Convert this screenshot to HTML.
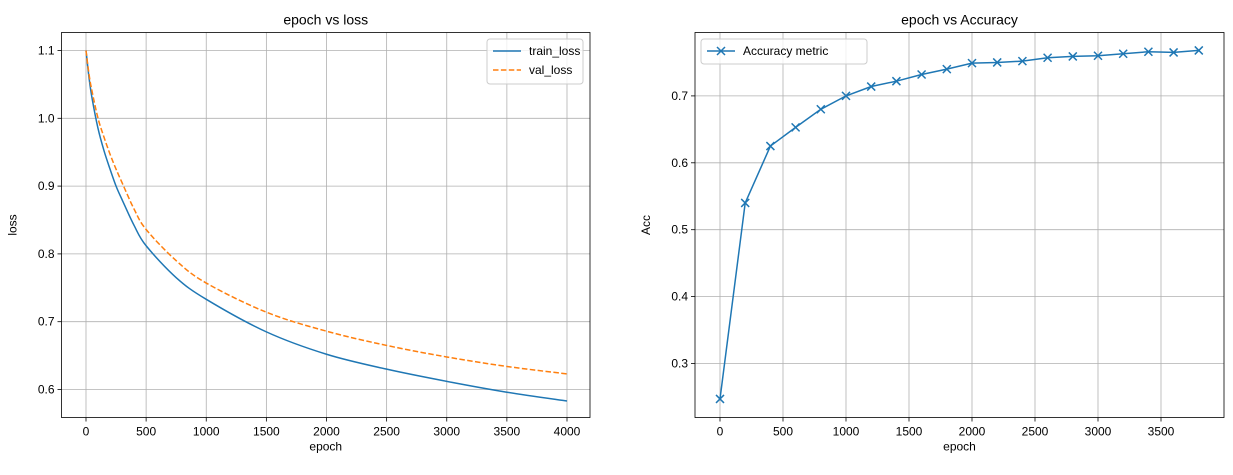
<!DOCTYPE html>
<html><head><meta charset="utf-8"><style>
body{margin:0;background:#fff;width:1233px;height:470px;overflow:hidden}
svg text{font-family:"Liberation Sans","DejaVu Sans",sans-serif;fill:#000}
</style></head><body>
<svg id="c" width="1233" height="470" xmlns="http://www.w3.org/2000/svg"></svg>
<script>
const lossEpochs=[0,25,50,100,150,200,250,300,400,500,750,1000,1500,2000,2500,3000,3500,4000];
const trainLoss=[1.1,1.06,1.03,0.985,0.952,0.925,0.90,0.88,0.842,0.812,0.765,0.733,0.685,0.652,0.630,0.612,0.596,0.583];
const valLoss=[1.1,1.065,1.04,1.0,0.972,0.947,0.925,0.905,0.866,0.836,0.790,0.757,0.714,0.686,0.665,0.648,0.634,0.623];
const accEpochs=[0,200,400,600,800,1000,1200,1400,1600,1800,2000,2200,2400,2600,2800,3000,3200,3400,3600,3800];
const accValues=[0.247,0.54,0.625,0.653,0.68,0.70,0.714,0.722,0.732,0.74,0.749,0.750,0.752,0.757,0.759,0.760,0.763,0.766,0.765,0.768];
const lossXTicks=[0,500,1000,1500,2000,2500,3000,3500,4000];
const lossYTicks=[0.6,0.7,0.8,0.9,1.0,1.1];
const accXTicks=[0,500,1000,1500,2000,2500,3000,3500];
const accYTicks=[0.3,0.4,0.5,0.6,0.7];

const svg=document.getElementById('c');
const NS='http://www.w3.org/2000/svg';
function mk(t,a,p){const e=document.createElementNS(NS,t);for(const k in a)e.setAttribute(k,a[k]);(p||svg).appendChild(e);return e;}
function smooth(pts){let d='M'+pts[0][0]+','+pts[0][1];
  for(let i=0;i<pts.length-1;i++){const p0=pts[Math.max(0,i-1)],p1=pts[i],p2=pts[i+1],p3=pts[Math.min(pts.length-1,i+2)];
    const c1x=p1[0]+(p2[0]-p0[0])/6,c1y=p1[1]+(p2[1]-p0[1])/6,c2x=p2[0]-(p3[0]-p1[0])/6,c2y=p2[1]-(p3[1]-p1[1])/6;
    d+=`C${c1x},${c1y} ${c2x},${c2y} ${p2[0]},${p2[1]}`;}
  return d;}

function axes(box,xs,ys,xt,yt,title,xl,yl,name){
  const g=mk('g',{});
  
  
  xt.forEach(v=>{const x=xs(v);
    const l=mk('line',{x1:x,x2:x,y1:box.t,y2:box.b,stroke:'#b0b0b0','stroke-width':0.8},g);
    
    mk('line',{x1:x,x2:x,y1:box.b,y2:box.b+4,stroke:'#000','stroke-width':0.8},g);
    const t=mk('text',{x:x,y:box.b+18,'text-anchor':'middle','font-size':12},g);t.textContent=v;
    });
  yt.forEach(v=>{const y=ys(v);
    const l=mk('line',{x1:box.l,x2:box.r,y1:y,y2:y,stroke:'#b0b0b0','stroke-width':0.8},g);
    
    mk('line',{x1:box.l-4,x2:box.l,y1:y,y2:y,stroke:'#000','stroke-width':0.8},g);
    const t=mk('text',{x:box.l-7,y:y+4,'text-anchor':'end','font-size':12},g);t.textContent=v.toFixed(1);
    });
  const tt=mk('text',{x:(box.l+box.r)/2,y:box.t-8,'text-anchor':'middle','font-size':14},g);tt.textContent=title;
  
  const xa=mk('text',{x:(box.l+box.r)/2,y:box.b+33,'text-anchor':'middle','font-size':12},g);xa.textContent=xl;
  
  const ya=mk('text',{x:0,y:0,'text-anchor':'middle','font-size':12,transform:`translate(${box.l-45},${(box.t+box.b)/2}) rotate(-90)`},g);ya.textContent=yl;
  
  return g;
}
function frame(box){const r=mk('rect',{x:box.l,y:box.t,width:box.r-box.l,height:box.b-box.t,fill:'none',stroke:'#000','stroke-width':0.8});
  }

// left
const B1={l:61.5,r:590,t:32.5,b:417.5};
const x1=v=>86+v*0.12025, y1=v=>50.5+(1.1-v)*678;
axes(B1,x1,y1,lossXTicks,lossYTicks,'epoch vs loss','epoch','loss','loss-chart');
const p1=mk('path',{d:smooth(lossEpochs.map((e,i)=>[x1(e),y1(trainLoss[i])])),fill:'none',stroke:'#1f77b4','stroke-width':1.5});

const p2=mk('path',{d:smooth(lossEpochs.map((e,i)=>[x1(e),y1(valLoss[i])])),fill:'none',stroke:'#ff7f0e','stroke-width':1.5,'stroke-dasharray':'5.5,2.4'});

frame(B1);
const lg=mk('g',{});
mk('rect',{x:487,y:39,width:96,height:45,rx:3,fill:'#fff','fill-opacity':0.8,stroke:'#ccc'},lg);
mk('line',{x1:493,x2:521,y1:51,y2:51,stroke:'#1f77b4','stroke-width':1.5},lg);
let t=mk('text',{x:529,y:55,'font-size':12},lg);t.textContent='train_loss';

mk('line',{x1:493,x2:521,y1:70,y2:70,stroke:'#ff7f0e','stroke-width':1.5,'stroke-dasharray':'5.5,2.4'},lg);
t=mk('text',{x:529,y:74,'font-size':12},lg);t.textContent='val_loss';


// right
const B2={l:695,r:1224,t:32.5,b:417.5};
const x2=v=>720+v*0.126, y2=v=>363.5+(0.3-v)*669;
axes(B2,x2,y2,accXTicks,accYTicks,'epoch vs Accuracy','epoch','Acc','accuracy-chart');
const p3=mk('polyline',{points:accEpochs.map((e,i)=>x2(e)+','+y2(accValues[i])).join(' '),fill:'none',stroke:'#1f77b4','stroke-width':1.5});

accEpochs.forEach((e,i)=>{const x=x2(e),y=y2(accValues[i]);
  const m=mk('path',{d:`M${x-4},${y-4}L${x+4},${y+4}M${x-4},${y+4}L${x+4},${y-4}`,stroke:'#1f77b4','stroke-width':1.5});
  });
frame(B2);
const lg2=mk('g',{});
mk('rect',{x:701,y:39,width:166,height:25,rx:3,fill:'#fff','fill-opacity':0.8,stroke:'#ccc'},lg2);
mk('line',{x1:707,x2:735,y1:51,y2:51,stroke:'#1f77b4','stroke-width':1.5},lg2);
mk('path',{d:'M717,47L725,55M717,55L725,47',stroke:'#1f77b4','stroke-width':1.5},lg2);
t=mk('text',{x:743,y:55,'font-size':12},lg2);t.textContent='Accuracy metric';

</script>
</body></html>
